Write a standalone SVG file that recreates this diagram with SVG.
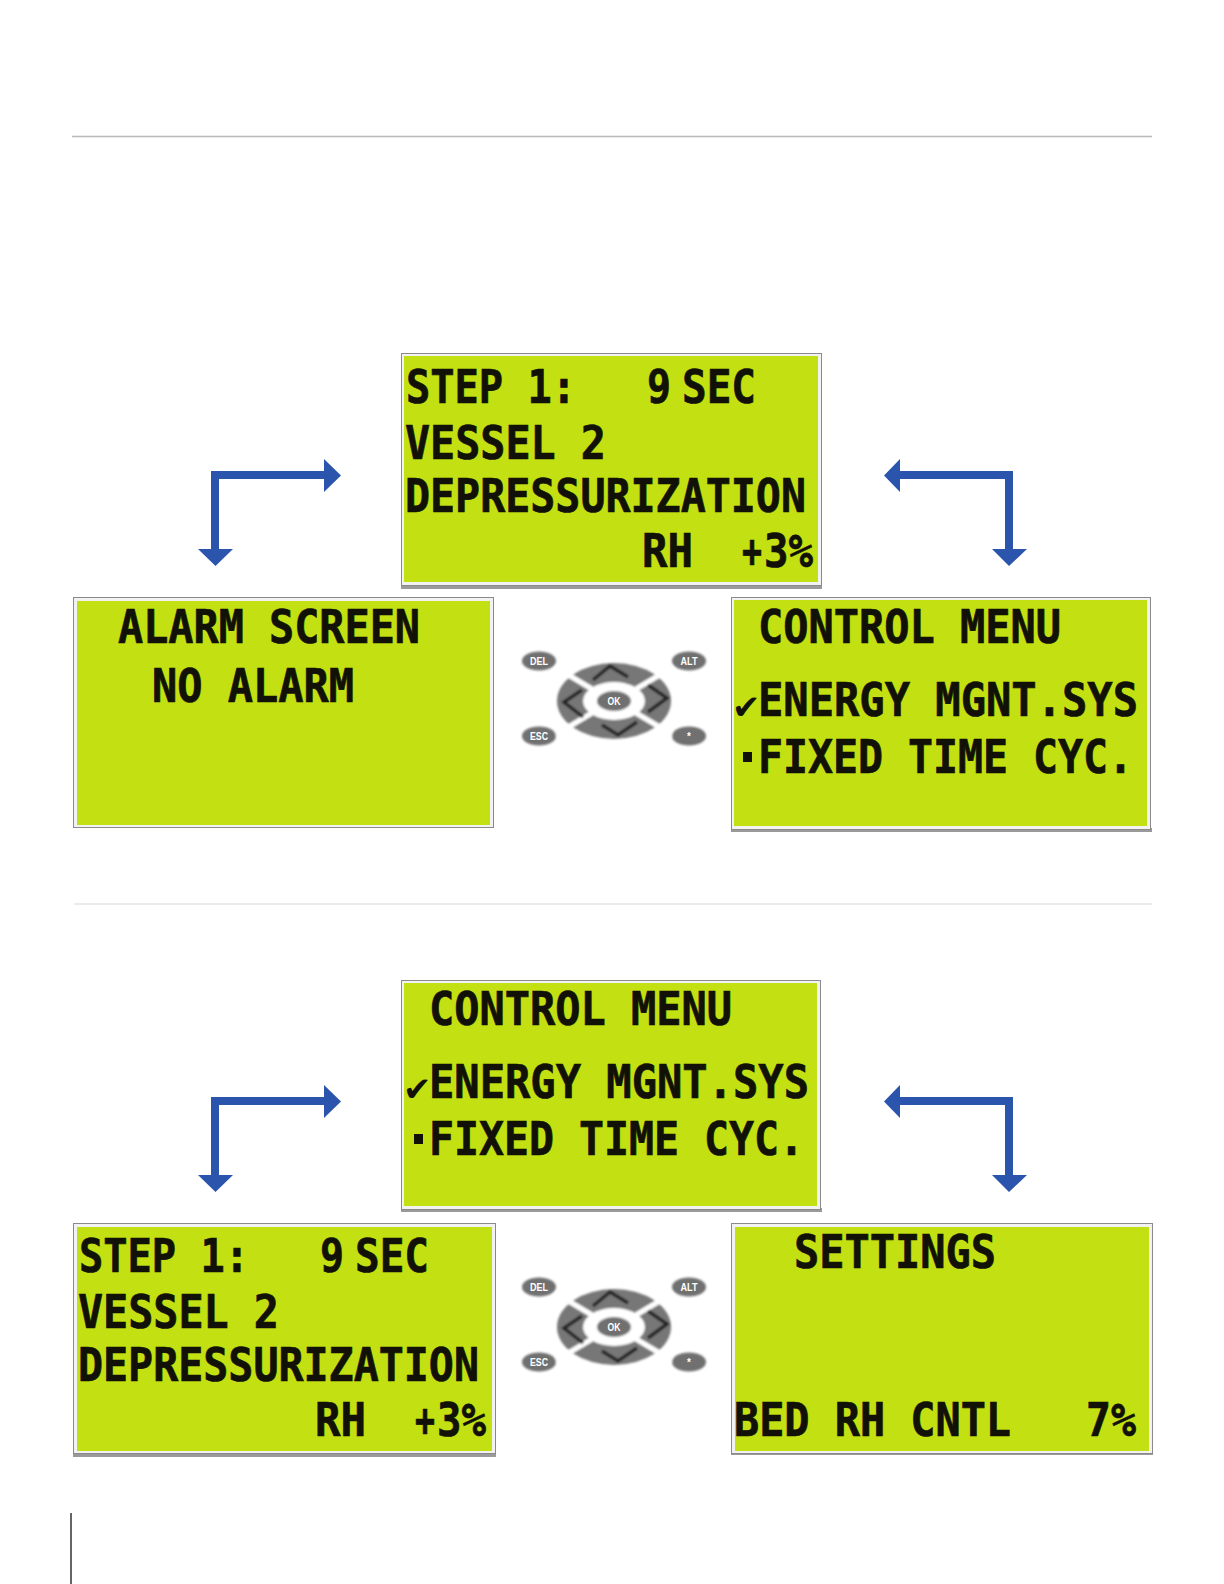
<svg xmlns="http://www.w3.org/2000/svg" width="1224" height="1584" viewBox="0 0 1224 1584">
<style>
.outer{fill:#f2f2f2;stroke:#8a8a8a;stroke-width:1}
.lcd{fill:#c2e012}
.shade{fill:#9a9a9a}
.t{font-family:"DejaVu Sans Mono","Liberation Mono",monospace;font-weight:700;font-size:47px;fill:#111108;stroke:#111108;stroke-width:.7}
.s{font-family:"DejaVu Sans",sans-serif;font-weight:700;font-size:34px;fill:#111108}
.rule{stroke-width:1.5;fill:none}
.arrow{fill:#2b55ad}
.seg{fill:#777}
.cut{stroke:#fff;stroke-width:5;fill:none}
.chev{stroke:#222;stroke-width:3.500;fill:none}
.key{fill:#6f6f6f}
.kt{font-family:"Liberation Sans",sans-serif;font-weight:700;font-size:10px;fill:#fff;text-anchor:middle}
</style>
<defs>
<filter id="soft" x="-5%" y="-5%" width="110%" height="110%"><feGaussianBlur stdDeviation="0.8"/></filter>
<path id="arrL" class="arrow" d="M211 471H324V459L341 475.500L324 492V479H219V549H233L215.500 566L198 549H211Z"/>
<path id="arrR" class="arrow" d="M1013 471H900V459L884 475.500L900 492V479H1005V549H1027L1009 566L992 549H1013Z" transform="translate(0 0)"/>
<g id="stepText">
<text class="t" x="406" y="403" textLength="170" lengthAdjust="spacingAndGlyphs">STEP 1:</text>
<text class="t" x="647" y="403" textLength="24" lengthAdjust="spacingAndGlyphs">9</text>
<text class="t" x="682" y="403" textLength="74" lengthAdjust="spacingAndGlyphs">SEC</text>
<text class="t" x="405" y="459" textLength="201" lengthAdjust="spacingAndGlyphs">VESSEL 2</text>
<text class="t" x="405" y="512" textLength="401" lengthAdjust="spacingAndGlyphs">DEPRESSURIZATION</text>
<text class="t" x="642" y="567" textLength="51" lengthAdjust="spacingAndGlyphs">RH</text>
<text class="t" x="742" y="567" textLength="20" lengthAdjust="spacingAndGlyphs">+</text>
<text class="t" x="764" y="567" textLength="49" lengthAdjust="spacingAndGlyphs">3%</text>
</g>
<g id="menuText">
<text class="t" x="758" y="643" textLength="303" lengthAdjust="spacingAndGlyphs">CONTROL MENU</text>
<text class="s" x="732" y="719" font-size="30">✔</text>
<text class="t" x="758" y="716" textLength="380" lengthAdjust="spacingAndGlyphs">ENERGY MGNT.SYS</text>
<rect x="743" y="752" width="9" height="10" fill="#111108"/>
<text class="t" x="758" y="773" textLength="375" lengthAdjust="spacingAndGlyphs">FIXED TIME CYC.</text>
</g>
<g id="keypad">
<g filter="url(#soft)">
<ellipse class="seg" cx="614" cy="701" rx="57" ry="38"/>
<ellipse cx="614" cy="701" rx="31" ry="19" fill="#fff"/>
<path class="cut" d="M555 667L592 689M673 667L636 689M555 735L592 713M673 735L636 713"/>
<path class="chev" d="M593 680L610 666L628 677M602 725L618 735L637 722M582 690L564 702L583 717M648 685L667 698L648 712"/>
<ellipse class="key" cx="614" cy="701" rx="17" ry="10"/>
<ellipse class="key" cx="539" cy="661" rx="17" ry="9.500"/>
<ellipse class="key" cx="689" cy="661" rx="17" ry="9.500"/>
<ellipse class="key" cx="539" cy="736" rx="17" ry="9.500"/>
<ellipse class="key" cx="689" cy="736" rx="17" ry="9.500"/>
</g>
<text class="kt" x="614" y="704.500" textLength="13" lengthAdjust="spacingAndGlyphs">OK</text>
<text class="kt" x="539" y="664.500" textLength="18" lengthAdjust="spacingAndGlyphs">DEL</text>
<text class="kt" x="689" y="664.500" textLength="17" lengthAdjust="spacingAndGlyphs">ALT</text>
<text class="kt" x="539" y="739.500" textLength="18" lengthAdjust="spacingAndGlyphs">ESC</text>
<text class="kt" x="689" y="740">*</text>
</g>
</defs>
<rect width="1224" height="1584" fill="#fff"/>
<g id="rules">
<path class="rule" stroke="#b9b9b9" d="M72 136.500H1152"/>
<path class="rule" stroke="#e3e3e3" d="M74 904H1152"/>
<path class="rule" stroke="#333" d="M71 1513V1584"/>
</g>
<g id="connectors">
<use href="#arrL"/>
<use href="#arrR"/>
<use href="#arrL" y="626"/>
<use href="#arrR" y="626"/>
</g>
<g id="screen-step">
<rect class="shade" x="401" y="585" width="421" height="4"/>
<rect class="outer" x="401.500" y="353.500" width="420" height="232"/>
<rect class="lcd" x="404" y="356" width="414" height="226"/>
<use href="#stepText"/>
</g>
<g id="screen-alarm">
<rect class="outer" x="73.500" y="597.500" width="420" height="230"/>
<rect class="lcd" x="77" y="601" width="413" height="224"/>
<text class="t" x="118" y="643" textLength="302" lengthAdjust="spacingAndGlyphs">ALARM SCREEN</text>
<text class="t" x="152" y="702" textLength="202" lengthAdjust="spacingAndGlyphs">NO ALARM</text>
</g>
<g id="keypad-1"><use href="#keypad"/></g>
<g id="screen-menu">
<rect class="shade" x="731" y="828" width="421" height="4"/>
<rect class="outer" x="731.500" y="597.500" width="419" height="232"/>
<rect class="lcd" x="734" y="600" width="413" height="226"/>
<use href="#menuText"/>
</g>
<g id="screen-menu-2">
<rect class="shade" x="401" y="1208" width="421" height="4"/>
<rect class="outer" x="401.500" y="980.500" width="419" height="229"/>
<rect class="lcd" x="404" y="983" width="413" height="223"/>
<use href="#menuText" x="-329" y="382"/>
</g>
<g id="screen-step-2">
<rect class="shade" x="73" y="1452" width="423" height="5"/>
<rect class="outer" x="73.500" y="1223.500" width="422" height="230"/>
<rect class="lcd" x="77" y="1227" width="415" height="224"/>
<use href="#stepText" x="-327" y="869"/>
</g>
<g id="keypad-2"><use href="#keypad" y="626"/></g>
<g id="screen-settings">
<rect class="shade" x="731" y="1452" width="422" height="3"/>
<rect class="outer" x="731.500" y="1223.500" width="421" height="230"/>
<rect class="lcd" x="735" y="1227" width="414" height="224"/>
<text class="t" x="794" y="1268" textLength="202" lengthAdjust="spacingAndGlyphs">SETTINGS</text>
<text class="t" x="734" y="1436" textLength="277" lengthAdjust="spacingAndGlyphs">BED RH CNTL</text>
<text class="t" x="1086" y="1436" textLength="50" lengthAdjust="spacingAndGlyphs">7%</text>
</g>
</svg>
